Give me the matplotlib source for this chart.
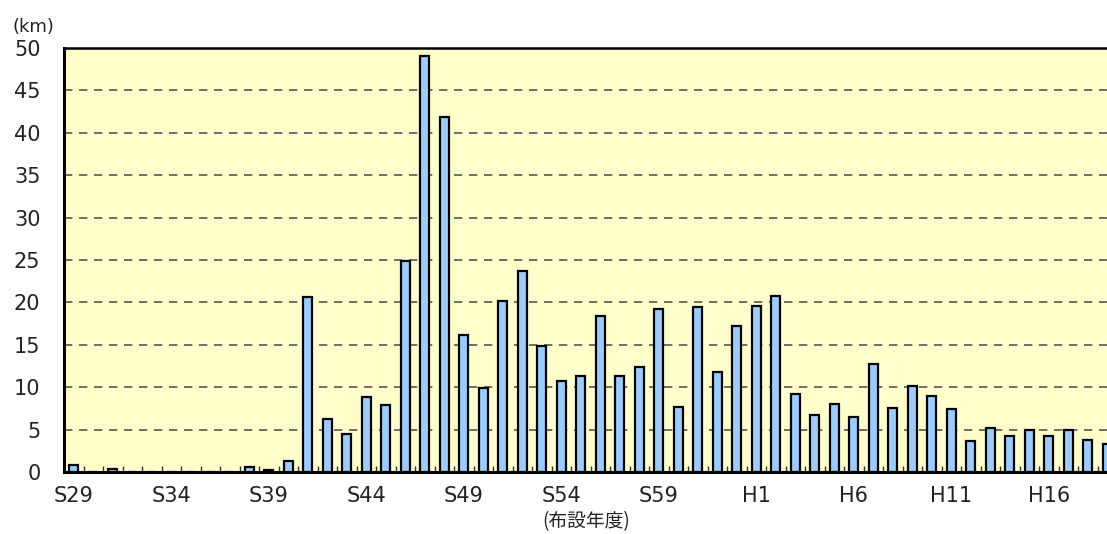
import matplotlib
matplotlib.use("Agg")
import matplotlib.pyplot as plt
import numpy as np

plt.rcParams['font.family'] = ['DejaVu Sans', 'Noto Sans CJK JP']

# 布設年度 S29 .. S63, H1 .. H19
years = ['S%d' % y for y in range(29, 64)] + ['H%d' % y for y in range(1, 20)]
length_km = [0.8, 0.05, 0.4, 0, 0, 0, 0, 0, 0.05, 0.6, 0.2, 1.3,
             20.6, 6.3, 4.5, 8.9, 7.9, 24.9, 49.0, 41.9, 16.2, 9.9,
             20.2, 23.7, 14.8, 10.7, 11.3, 18.4, 11.3, 12.4, 19.2, 7.7,
             19.5, 11.8, 17.2,
             19.6, 20.8, 9.2, 6.7, 8.0, 6.5, 12.7, 7.5, 10.1, 9.0,
             7.4, 3.7, 5.2, 4.3, 4.9, 4.2, 5.0, 3.8, 3.3]
label_years = ['S29', 'S34', 'S39', 'S44', 'S49', 'S54', 'S59',
               'H1', 'H6', 'H11', 'H16']

W, H = 1107, 534
fig = plt.figure(figsize=(W / 100, H / 100), dpi=100)
step = 19.5
ncat = 56
ax = fig.add_axes([64 / W, (H - 472) / H, ncat * step / W, 424 / H])
ax.set_facecolor('#FFFFCC')

x = np.arange(len(years))
ax.bar(x, length_km, width=0.45, color='#99CCFF', edgecolor='black',
       linewidth=1.6, zorder=3)

ax.set_xlim(-0.5, ncat - 0.5)
ax.set_ylim(0, 50)
ax.set_yticks(range(0, 51, 5))
ax.yaxis.grid(True, linestyle=(0, (5, 4)), color='#555555', linewidth=1.2, zorder=1)

ax.set_xticks([years.index(l) for l in label_years])
ax.set_xticklabels(label_years)
ax.set_xticks(np.arange(-0.5, ncat, 1), minor=True)
ax.tick_params(axis='x', which='major', length=0, pad=10, labelsize=15, labelcolor='#222222')
ax.tick_params(axis='x', which='minor', direction='in', length=4, width=1, color='#333333')
ax.tick_params(axis='y', length=0, pad=17, labelsize=15, labelcolor='#222222')

for side in ['left', 'bottom']:
    ax.spines[side].set_linewidth(2.2)
ax.spines['top'].set_linewidth(1.8)
ax.spines['right'].set_visible(False)

fig.text(12 / W, 1 - 27 / H, '(km)', fontsize=13, va='center', ha='left', color='#222222')
fig.text(586 / W, 1 - 522 / H, '(布設年度)', fontsize=13.5,
         family=['Noto Sans CJK JP', 'DejaVu Sans'], va='center', ha='center', color='#222222')

fig.savefig('out.png', dpi=100)
